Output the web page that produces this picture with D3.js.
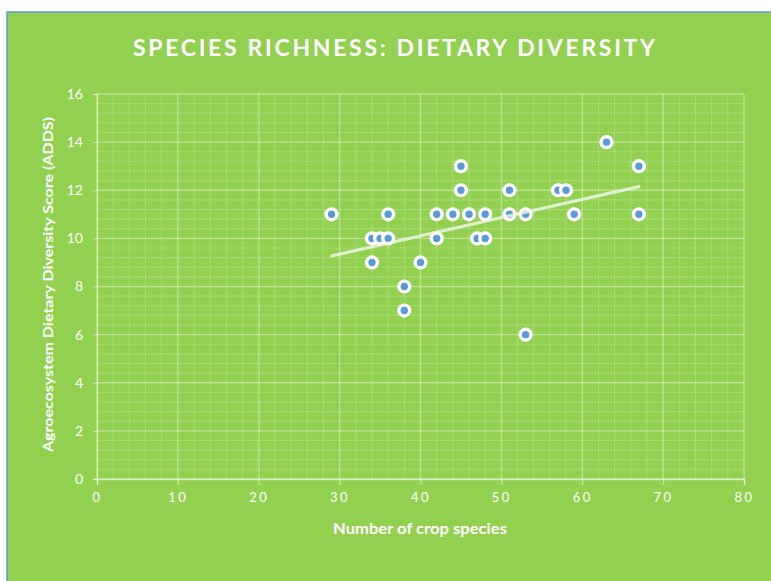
<!DOCTYPE html>
<html>
<head>
<meta charset="utf-8">
<script src="https://cdn.jsdelivr.net/npm/d3@7"></script>
<style>
  html, body { margin: 0; padding: 0; background: #ffffff; }
  svg { display: block; }
  text { font-family: Lato, "Open Sans", "Noto Sans", sans-serif; fill: #ffffff; }
</style>
</head>
<body>
<svg id="chart" width="771" height="581"></svg>
<script>
// Crop species count vs. agroecosystem dietary diversity score
const cropSpecies = [29, 34, 35, 36, 36, 34, 38, 38, 40, 42, 42, 44, 45, 45,
                     46, 47, 48, 48, 51, 51, 53, 53, 57, 58, 59, 63, 67, 67];
const addsScore   = [11, 10, 10, 10, 11, 9, 8, 7, 9, 10, 11, 11, 12, 13,
                     11, 10, 10, 11, 12, 11, 11, 6, 12, 12, 11, 14, 13, 11];
const xTicks = [0, 10, 20, 30, 40, 50, 60, 70, 80];
const yTicks = [0, 2, 4, 6, 8, 10, 12, 14, 16];

const titleText = "SPECIES RICHNESS: DIETARY DIVERSITY";
const xTitle = "Number of crop species";
const yTitle = "Agroecosystem Dietary Diversity Score (ADDS)";

const svg = d3.select("#chart");
const W = 771, H = 581;
const m = { left: 97, right: 27, top: 94, bottom: 102 };

// chart area background with frame
svg.append("rect")
  .attr("x", 7).attr("y", 12).attr("width", W - 6).attr("height", H - 11)
  .attr("fill", "#92d050").attr("stroke", "#5b9bd5").attr("stroke-width", 1.5);

const x = d3.scaleLinear().domain([0, 80]).range([m.left, W - m.right]);
const y = d3.scaleLinear().domain([0, 16]).range([H - m.bottom, m.top]);

const g = svg.append("g");

// minor gridlines
g.append("g").selectAll("line")
  .data(d3.range(0, 80.01, 2).filter(v => v % 10 !== 0))
  .join("line")
  .attr("x1", d => x(d)).attr("x2", d => x(d))
  .attr("y1", y(0)).attr("y2", y(16))
  .attr("stroke", "#ffffff").attr("stroke-opacity", 0.2).attr("stroke-width", 1);
g.append("g").selectAll("line")
  .data(d3.range(0, 16.01, 0.4).filter(v => Math.abs(v / 2 - Math.round(v / 2)) > 1e-6))
  .join("line")
  .attr("x1", x(0)).attr("x2", x(80))
  .attr("y1", d => y(d)).attr("y2", d => y(d))
  .attr("stroke", "#ffffff").attr("stroke-opacity", 0.2).attr("stroke-width", 1);

// major gridlines
g.append("g").selectAll("line")
  .data(xTicks)
  .join("line")
  .attr("x1", d => x(d)).attr("x2", d => x(d))
  .attr("y1", y(0)).attr("y2", y(16))
  .attr("stroke", "#ffffff").attr("stroke-opacity", 0.38).attr("stroke-width", 1.3);
g.append("g").selectAll("line")
  .data(yTicks)
  .join("line")
  .attr("x1", x(0)).attr("x2", x(80))
  .attr("y1", d => y(d)).attr("y2", d => y(d))
  .attr("stroke", "#ffffff").attr("stroke-opacity", 0.38).attr("stroke-width", 1.3);

// axes
const xAxis = d3.axisBottom(x).tickValues(xTicks).tickSize(6).tickPadding(8)
  .tickFormat(d => String(d));
const yAxis = d3.axisLeft(y).tickValues(yTicks).tickSize(4).tickPadding(10)
  .tickFormat(d => String(d));

const gx = svg.append("g").attr("transform", `translate(0,${y(0)})`).call(xAxis);
gx.select(".domain").attr("stroke", "#ffffff").attr("stroke-opacity", 0.5).attr("stroke-width", 1.3);
gx.selectAll(".tick line").attr("stroke", "#ffffff").attr("stroke-opacity", 0.5);
gx.selectAll(".tick text")
  .attr("fill", "#ffffff").attr("font-size", 13).style("letter-spacing", "2.5px")
  .attr("font-family", "Lato, sans-serif");

const gy = svg.append("g").attr("transform", `translate(${x(0)},0)`).call(yAxis);
gy.select(".domain").attr("stroke", "#ffffff").attr("stroke-opacity", 0.5).attr("stroke-width", 1.3);
gy.selectAll(".tick line").attr("stroke", "#ffffff").attr("stroke-opacity", 0.5);
gy.selectAll(".tick text")
  .attr("fill", "#ffffff").attr("font-size", 14)
  .attr("font-family", "Lato, sans-serif");

// points
const pts = cropSpecies.map((v, i) => ({ x: v, y: addsScore[i] }));
svg.append("g").selectAll("circle")
  .data(pts)
  .join("circle")
  .attr("cx", d => x(d.x)).attr("cy", d => y(d.y))
  .attr("r", 5.4)
  .attr("fill", "#5b9bd5")
  .attr("stroke", "#ffffff").attr("stroke-width", 3.4);

// least-squares trend line
const mx = d3.mean(pts, d => d.x), my = d3.mean(pts, d => d.y);
const slope = d3.sum(pts, d => (d.x - mx) * (d.y - my)) / d3.sum(pts, d => (d.x - mx) ** 2);
const intercept = my - slope * mx;
const [xa, xb] = d3.extent(cropSpecies);
svg.append("line")
  .attr("x1", x(xa)).attr("y1", y(intercept + slope * xa))
  .attr("x2", x(xb)).attr("y2", y(intercept + slope * xb))
  .attr("stroke", "#f2f8ea").attr("stroke-opacity", 0.8)
  .attr("stroke-width", 3.2).attr("stroke-linecap", "round");

// titles
svg.append("text")
  .attr("x", 133).attr("y", 56)
  .attr("font-size", 23).attr("font-weight", 700)
  .attr("font-family", "'Open Sans', Lato, sans-serif")
  .attr("textLength", 522).attr("lengthAdjust", "spacing")
  .text(titleText);

svg.append("text")
  .attr("x", 333).attr("y", 534)
  .attr("font-size", 14.5).attr("font-weight", 700)
  .attr("textLength", 174).attr("lengthAdjust", "spacingAndGlyphs")
  .text(xTitle);

svg.append("text")
  .attr("transform", "translate(53,452) rotate(-90)")
  .attr("font-size", 14).attr("font-weight", 700)
  .attr("textLength", 335).attr("lengthAdjust", "spacingAndGlyphs")
  .text(yTitle);
</script>
</body>
</html>
